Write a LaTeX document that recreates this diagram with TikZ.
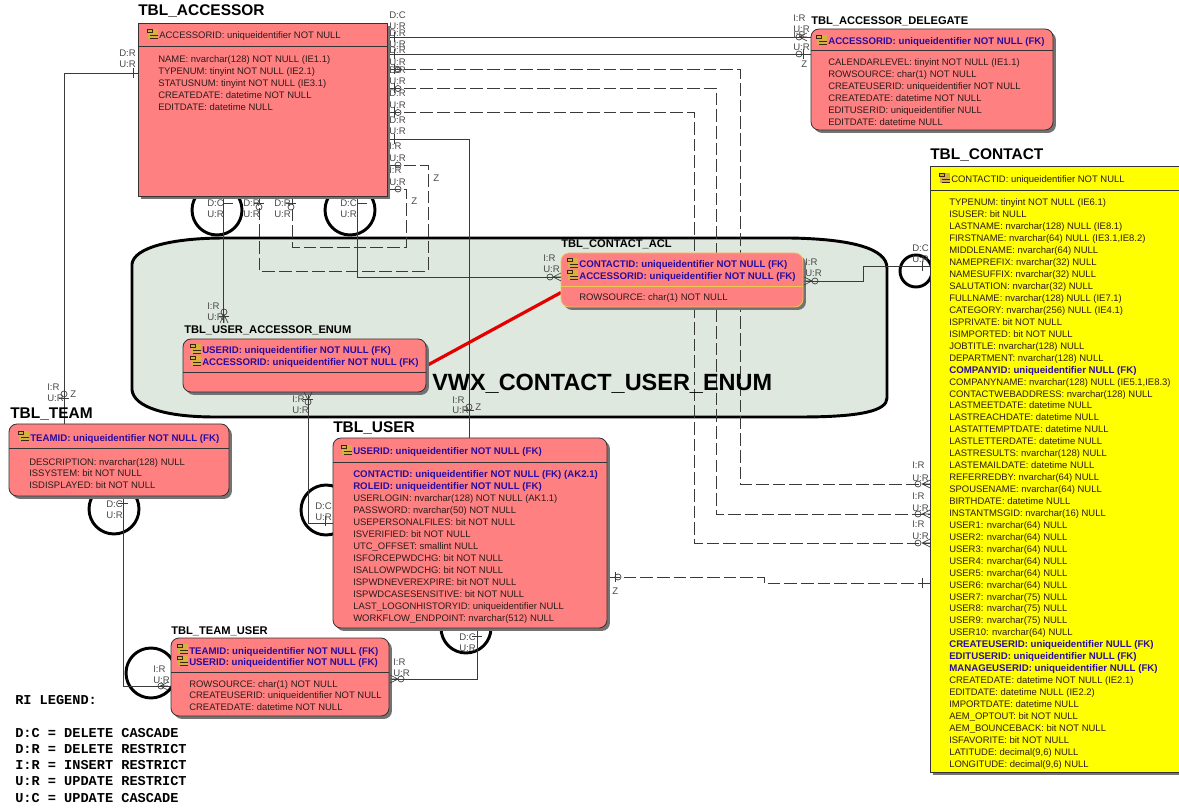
\documentclass[tikz,border=0pt]{standalone}
\usepackage{fontspec}
\setmainfont{Liberation Sans}
\newfontfamily\legendfont{Liberation Mono}
\usetikzlibrary{shadows}
\pgfdeclarelayer{backlayer}
\pgfdeclarelayer{midlayer}
\pgfsetlayers{backlayer,midlayer,main}
\definecolor{pinkbox}{HTML}{FF8080}
\definecolor{yelbox}{HTML}{FFFF00}
\definecolor{fkblue}{HTML}{2A0D9E}
\definecolor{rowcol}{HTML}{2E1C1C}
\definecolor{shadecol}{HTML}{DEE8DE}
\definecolor{labcol}{HTML}{4A4A4A}
\definecolor{linecol}{HTML}{3A3A3A}
\definecolor{edgecol}{HTML}{333333}
\definecolor{aclborder}{HTML}{E8C850}
\definecolor{keycol}{HTML}{D8B040}
\newcommand\fk{\fontsize{7.25}{9}\selectfont\bfseries\color{fkblue}}
\tikzset{
  tbl/.style={draw=edgecol,line width=0.6pt,fill=pinkbox,anchor=north west,inner sep=0,outer sep=0,
     general shadow={fill=black!55,shadow xshift=2.2pt,shadow yshift=-2.2pt}},
  rtbl/.style={tbl,rounded corners=6pt},
  rowtxt/.style={anchor=base west,inner sep=0,font=\fontsize{7.1}{9}\selectfont,text=rowcol},
  bigttl/.style={anchor=base west,inner sep=0,font=\fontsize{11.6}{13}\selectfont\bfseries,text=black},
  smallttl/.style={anchor=base west,inner sep=0,font=\fontsize{8.35}{10}\selectfont\bfseries,text=black},
  rilab/.style={anchor=base west,inner sep=0,font=\fontsize{7.2}{8}\selectfont,text=labcol},
  legendtxt/.style={anchor=base west,inner sep=0,font=\legendfont\bfseries\fontsize{10.2}{12}\selectfont,text=black},
  rel/.style={draw=linecol,line width=0.6pt},
  reld/.style={draw=linecol,line width=0.6pt,dash pattern=on 9.5pt off 3pt},
  sym/.style={draw=linecol,line width=0.5pt},
  ring/.style={draw=black,line width=2.2pt},
  divider/.style={draw=edgecol,line width=0.6pt},
}
% position helpers
\newcommand\rowlist[4]{\foreach \t [count=\i from 0] in {#4} {\node[rowtxt,name=#1\i] at (#2,{#3+1+\i*11.94}) {\t};}}
\newcommand\lab[4]{\node[rilab,name=#1] at (#2,#3) {#4};}
\newcommand\keyic[2]{%
  \fill[keycol] ({#1-5.5},{#2-5}) rectangle ({#1+5},{#2+5});
  \draw[black!70!brown,line width=0.5pt] ({#1-5.5},{#2-5}) rectangle ({#1-1},{#2-1.5}) ({#1-3},{#2+1}) -- ({#1+5},{#2+1}) ({#1-3},{#2+4}) -- ({#1+5},{#2+4});}
\newcommand\zc[2]{\draw[sym] (#1,#2) circle (3);}
\newcommand\footR[2]{\draw[sym] (#1,#2) -- ({#1+8},{#2-4}) (#1,#2) -- ({#1+8},{#2+4}) (#1,#2) -- ({#1+8},#2);}
\newcommand\footL[2]{\draw[sym] (#1,#2) -- ({#1-8},{#2-4}) (#1,#2) -- ({#1-8},{#2+4}) (#1,#2) -- ({#1-8},#2);}
\newcommand\footD[2]{\draw[sym] (#1,#2) -- ({#1-4},{#2+8}) (#1,#2) -- ({#1+4},{#2+8}) (#1,#2) -- (#1,{#2+8});}
\newcommand\footU[2]{\draw[sym] (#1,#2) -- ({#1-4},{#2-8}) (#1,#2) -- ({#1+4},{#2-8});}
\newcommand\tickV[2]{\draw[sym] (#1,{#2-5}) -- (#1,{#2+5});}
\newcommand\tickH[2]{\draw[sym] ({#1-5},#2) -- ({#1+5},#2);}
\begin{document}
\begin{tikzpicture}[x=0.75pt,y=-0.75pt]
\useasboundingbox (0,0) rectangle (1179,809);
\begin{pgfonlayer}{backlayer}
\fill[white] (0,0) rectangle (1179,809);
% view region
\filldraw[draw=black,line width=2.2pt,fill=shadecol]
 (132,264) .. controls (134,248) and (170,238) .. (225,238) -- (790,238)
 .. controls (850,239) and (887,248) .. (887,268) -- (887,398)
 .. controls (887,411) and (860,417) .. (800,417) -- (215,417)
 .. controls (165,417) and (134,407) .. (132,390) -- cycle;
% rings
\draw[ring] (217,210) circle (25);
\draw[ring] (350,210) circle (25);
\draw[ring] (114,509) circle (25);
\draw[ring] (326,510) circle (25);
\draw[ring] (151,673) circle (25);
\draw[ring] (466,628) circle (25);
\draw[ring] (916,271) circle (16);
\end{pgfonlayer}
\node[anchor=base west,inner sep=0,font=\fontsize{17.6}{20}\selectfont\bfseries,text=black] (view) at (432,391) {VWX\_CONTACT\_USER\_ENUM};
% tables
\node[tbl,minimum width=186.75pt,minimum height=129.75pt] (acc) at (138,23) {};
\node[rtbl,minimum width=181.5pt,minimum height=75.75pt] (del) at (811,29) {};
\node[tbl,fill=yelbox,minimum width=200pt,minimum height=454.5pt] (con) at (930,166) {};
\node[rtbl,draw=aclborder,minimum width=181.5pt,minimum height=40.5pt] (acl) at (561,253) {};
\node[rtbl,minimum width=182.25pt,minimum height=39.75pt] (uae) at (183,339) {};
\node[rtbl,minimum width=165pt,minimum height=54pt] (team) at (9,424) {};
\node[rtbl,minimum width=205.5pt,minimum height=142.5pt] (usr) at (333,438) {};
\node[rtbl,minimum width=163.5pt,minimum height=58.5pt] (tu) at (171,638) {};
% connector end points that stop short of a table
\coordinate (uaeTop) at (224,323);
% connectors
\begin{pgfonlayer}{midlayer}
\draw[rel] (acc.east |- 0,37) -- (del.west |- 0,37);
\draw[rel] (acc.east |- 0,54) -- (del.west |- 0,54);
\draw[reld] (acc.east |- 0,69.5) -- (740,69.5) -- (740,484) -- (con.west |- 0,484);
\draw[reld] (acc.east |- 0,88.5) -- (716,88.5) -- (716,514) -- (con.west |- 0,514);
\draw[reld] (acc.east |- 0,112.5) -- (694,112.5) -- (694,543) -- (con.west |- 0,543);
\draw[rel] (acc.east |- 0,139) -- (469,139) -- (usr.north -| 469,0);
\draw[reld] (acc.east |- 0,165) -- (428,165) -- (428,271) -- (259,271) -- (acc.south -| 259,0);
\draw[reld] (acc.east |- 0,189) -- (406,189) -- (406,247) -- (292,247) -- (acc.south -| 292,0);
\draw[rel] (acc.south -| 357,0) -- (357,277) -- (acl.west |- 0,277);
\draw[rel] (acc.south -| 223.5,0) -- (uaeTop -| 223.5,0);
\draw[rel] (uae.south -| 308,0) -- (308,523) -- (usr.west |- 0,523);
\draw[rel] (acc.west |- 0,73) -- (64,73) -- (team.north -| 64,0);
\draw[rel] (team.south -| 123,0) -- (123,686) -- (tu.west |- 0,686);
\draw[rel] (usr.south -| 477,0) -- (477,679) -- (tu.east |- 0,679);
\draw[rel] (acl.east |- 0,281) -- (863,281) -- (863,266) -- (con.west |- 0,266);
\draw[reld] (usr.east |- 0,577) -- (764,577) -- (764,583) -- (con.west |- 0,583);
\draw[draw=red!90!black,line width=2.4pt] (acl.west |- 0,292.5) -- (uae.east |- 0,366);
\end{pgfonlayer}
% relationship end marks
\tickV{394}{37}\tickV{394}{54}\tickV{394}{69}\tickV{394}{88}\tickV{394}{112}\tickV{394}{139}
\zc{398}{69.5}\footL{402}{69.5}\zc{398}{88.5}\zc{398}{112.5}\zc{398}{165}\zc{398}{189}
\tickH{228}{203}\tickH{362}{203}\zc{259}{207}\tickH{259}{203}\zc{291}{207}\tickH{291}{203}
\zc{799}{37}\footR{799}{37}\zc{799}{54}\tickV{803}{54}
\footR{922}{484}\zc{918}{484}\footR{922}{514}\zc{918}{514}\footR{922}{543}\zc{918}{543}
\tickV{922}{266}\tickV{922}{583}
\zc{550}{277}\footR{553}{277}
\footL{812}{281}\zc{815}{281}
\zc{224}{312}\footD{224}{315}\tickH{224}{316}
\zc{308}{402}\footU{308}{400}\tickH{308}{399}
\zc{469}{407}\tickH{469}{410}
\zc{64}{394}\tickH{64}{398}\tickV{133}{73}
\tickH{123}{503}\footR{160}{686}\zc{161}{686}
\tickV{325}{521}
\tickH{477}{636}\footL{398}{679}\zc{401}{679}
\tickV{615}{577}\zc{618}{577}
% dividers
\draw[divider] (acc.west |- 0,46) -- (acc.east |- 0,46);
\draw[divider] (del.west |- 0,50) -- (del.east |- 0,50);
\draw[divider] (con.west |- 0,190) -- (con.east |- 0,190);
\draw[draw=aclborder,line width=0.7pt] (acl.west |- 0,286) -- (acl.east |- 0,286);
\draw[divider] (uae.west |- 0,372) -- (uae.east |- 0,372);
\draw[divider] (team.west |- 0,448) -- (team.east |- 0,448);
\draw[divider] (usr.west |- 0,462) -- (usr.east |- 0,462);
\draw[divider] (tu.west |- 0,672) -- (tu.east |- 0,672);
% titles
\node[bigttl] (tAcc) at (138,16) {TBL\_ACCESSOR};
\node[smallttl] (tDel) at (811,25) {TBL\_ACCESSOR\_DELEGATE};
\node[bigttl] (tCon) at (930,160) {TBL\_CONTACT};
\node[smallttl] (tAcl) at (561,248) {TBL\_CONTACT\_ACL};
\node[smallttl] (tUae) at (184,334) {TBL\_USER\_ACCESSOR\_ENUM};
\node[bigttl] (tTeam) at (10,419) {TBL\_TEAM};
\node[bigttl] (tUsr) at (333,432) {TBL\_USER};
\node[smallttl] (tTu) at (171,634) {TBL\_TEAM\_USER};
% key rows
\keyic{153}{34}\rowlist{aKey}{159}{38}{ACCESSORID: uniqueidentifier NOT NULL}
\keyic{822}{40}\rowlist{dKey}{828}{44}{{\fk ACCESSORID: uniqueidentifier NOT NULL (FK)}}
\keyic{945}{178}\rowlist{cKey}{951}{182}{CONTACTID: uniqueidentifier NOT NULL}
\keyic{573}{263}\keyic{573}{275}\rowlist{lKey}{579}{267}{{\fk CONTACTID: uniqueidentifier NOT NULL (FK)},{\fk ACCESSORID: uniqueidentifier NOT NULL (FK)}}
\keyic{196}{349}\keyic{196}{361}\rowlist{uKey}{202}{353}{{\fk USERID: uniqueidentifier NOT NULL (FK)},{\fk ACCESSORID: uniqueidentifier NOT NULL (FK)}}
\keyic{24}{436}\rowlist{tKey}{30}{440}{{\fk TEAMID: uniqueidentifier NOT NULL (FK)}}
\keyic{347}{450}\rowlist{sKey}{353}{454}{{\fk USERID: uniqueidentifier NOT NULL (FK)}}
\keyic{183}{649}\keyic{183}{661}\rowlist{mKey}{189}{653}{{\fk TEAMID: uniqueidentifier NOT NULL (FK)},{\fk USERID: uniqueidentifier NOT NULL (FK)}}
% attribute rows
\rowlist{aRow}{158}{62}{NAME: nvarchar(128) NOT NULL (IE1.1),TYPENUM: tinyint NOT NULL (IE2.1),STATUSNUM: tinyint NOT NULL (IE3.1),CREATEDATE: datetime NOT NULL,EDITDATE: datetime NULL}
\rowlist{dRow}{828}{65}{CALENDARLEVEL: tinyint NOT NULL (IE1.1),ROWSOURCE: char(1) NOT NULL,CREATEUSERID: uniqueidentifier NOT NULL,CREATEDATE: datetime NOT NULL,EDITUSERID: uniqueidentifier NULL,EDITDATE: datetime NULL}
\rowlist{lRow}{579}{300}{ROWSOURCE: char(1) NOT NULL}
\rowlist{tRow}{29}{464}{DESCRIPTION: nvarchar(128) NULL,ISSYSTEM: bit NOT NULL,ISDISPLAYED: bit NOT NULL}
\rowlist{sRow}{353}{477}{{\fk CONTACTID: uniqueidentifier NOT NULL (FK) (AK2.1)},{\fk ROLEID: uniqueidentifier NOT NULL (FK)},USERLOGIN: nvarchar(128) NOT NULL (AK1.1),PASSWORD: nvarchar(50) NOT NULL,USEPERSONALFILES: bit NOT NULL,ISVERIFIED: bit NOT NULL,UTC\_OFFSET: smallint NULL,ISFORCEPWDCHG: bit NOT NULL,ISALLOWPWDCHG: bit NOT NULL,ISPWDNEVEREXPIRE: bit NOT NULL,ISPWDCASESENSITIVE: bit NOT NULL,LAST\_LOGONHISTORYID: uniqueidentifier NULL,WORKFLOW\_ENDPOINT: nvarchar(512) NULL}
\rowlist{mRow}{189}{686}{ROWSOURCE: char(1) NOT NULL,CREATEUSERID: uniqueidentifier NOT NULL,CREATEDATE: datetime NOT NULL}
\rowlist{cRow}{949}{205}{TYPENUM: tinyint NOT NULL (IE6.1),ISUSER: bit NULL,LASTNAME: nvarchar(128) NULL (IE8.1),{FIRSTNAME: nvarchar(64) NULL (IE3.1,IE8.2)},MIDDLENAME: nvarchar(64) NULL,NAMEPREFIX: nvarchar(32) NULL,NAMESUFFIX: nvarchar(32) NULL,SALUTATION: nvarchar(32) NULL,FULLNAME: nvarchar(128) NULL (IE7.1),CATEGORY: nvarchar(256) NULL (IE4.1),ISPRIVATE: bit NOT NULL,ISIMPORTED: bit NOT NULL,JOBTITLE: nvarchar(128) NULL,DEPARTMENT: nvarchar(128) NULL,{\fk COMPANYID: uniqueidentifier NULL (FK)},{COMPANYNAME: nvarchar(128) NULL (IE5.1,IE8.3)},CONTACTWEBADDRESS: nvarchar(128) NULL,LASTMEETDATE: datetime NULL,LASTREACHDATE: datetime NULL,LASTATTEMPTDATE: datetime NULL,LASTLETTERDATE: datetime NULL,LASTRESULTS: nvarchar(128) NULL,LASTEMAILDATE: datetime NULL,REFERREDBY: nvarchar(64) NULL,SPOUSENAME: nvarchar(64) NULL,BIRTHDATE: datetime NULL,INSTANTMSGID: nvarchar(16) NULL,USER1: nvarchar(64) NULL,USER2: nvarchar(64) NULL,USER3: nvarchar(64) NULL,USER4: nvarchar(64) NULL,USER5: nvarchar(64) NULL,USER6: nvarchar(64) NULL,USER7: nvarchar(75) NULL,USER8: nvarchar(75) NULL,USER9: nvarchar(75) NULL,USER10: nvarchar(64) NULL,{\fk CREATEUSERID: uniqueidentifier NULL (FK)},{\fk EDITUSERID: uniqueidentifier NULL (FK)},{\fk MANAGEUSERID: uniqueidentifier NULL (FK)},CREATEDATE: datetime NOT NULL (IE2.1),EDITDATE: datetime NULL (IE2.2),IMPORTDATE: datetime NULL,AEM\_OPTOUT: bit NOT NULL,AEM\_BOUNCEBACK: bit NOT NULL,ISFAVORITE: bit NOT NULL,{LATITUDE: decimal(9,6) NULL},{LONGITUDE: decimal(9,6) NULL}}
% RI labels
\lab{l1}{389}{19}{D:C}\lab{l2}{389}{30}{U:R}\lab{l3}{389}{37}{D:R}\lab{l4}{389}{48}{U:R}
\lab{l5}{389}{54}{D:R}\lab{l6}{389}{66}{U:R}\lab{l7}{389}{74}{D:R}\lab{l8}{389}{85}{U:R}
\lab{l9}{389}{97}{D:R}\lab{l10}{389}{109}{U:R}\lab{l11}{389}{124}{D:R}\lab{l12}{389}{135}{U:R}
\lab{l13}{389}{150}{I:R}\lab{l14}{389}{162}{U:R}\lab{l15}{389}{174}{I:R}\lab{l16}{389}{186}{U:R}
\lab{z1}{433}{182}{Z}\lab{z2}{411}{205}{Z}
\lab{b1}{207}{207}{D:C}\lab{b2}{207}{218}{U:R}\lab{b3}{243}{207}{D:R}\lab{b4}{243}{218}{U:R}
\lab{b5}{274}{207}{D:R}\lab{b6}{274}{218}{U:R}\lab{b7}{340}{207}{D:C}\lab{b8}{340}{218}{U:R}
\lab{a1}{119}{57}{D:R}\lab{a2}{119}{68}{U:R}
\lab{d1}{793}{22}{I:R}\lab{d2}{793}{33}{U:R}\lab{d3}{793}{39}{I:R}\lab{d4}{793}{51}{U:R}\lab{d5}{801}{68}{Z}
\lab{c1}{912}{469}{I:R}\lab{c2}{912}{481}{U:R}\lab{c3}{912}{499}{I:R}\lab{c4}{912}{511}{U:R}\lab{c5}{912}{527}{I:R}\lab{c6}{912}{539}{U:R}
\lab{k1}{543}{262}{I:R}\lab{k2}{543}{273}{U:R}\lab{k3}{805}{266}{I:R}\lab{k4}{805}{277}{U:R}\lab{k5}{912}{252}{D:C}\lab{k6}{912}{263}{U:R}
\lab{e1}{207}{310}{I:R}\lab{e2}{207}{321}{U:R}\lab{e3}{292}{403}{I:R}\lab{e4}{292}{414}{U:R}
\lab{f1}{452}{404}{I:R}\lab{f2}{452}{414}{U:R}\lab{f3}{475}{411}{Z}
\lab{g1}{47}{391}{I:R}\lab{g2}{47}{402}{U:R}\lab{g3}{70}{398}{Z}
\lab{h1}{106}{507}{D:C}\lab{h2}{106}{518}{U:R}\lab{h3}{315}{509}{D:C}\lab{h4}{315}{520}{U:R}
\lab{i1}{153}{672}{I:R}\lab{i2}{153}{683}{U:R}\lab{i3}{459}{640}{D:C}\lab{i4}{459}{651}{U:R}
\lab{j1}{393}{665}{I:R}\lab{j2}{393}{676}{U:R}\lab{j3}{612}{594}{Z}
% legend
\node[legendtxt] (lg0) at (15,704) {RI LEGEND:};
\node[legendtxt] (lg1) at (15,737) {D:C = DELETE CASCADE};
\node[legendtxt] (lg2) at (15,753) {D:R = DELETE RESTRICT};
\node[legendtxt] (lg3) at (15,769) {I:R = INSERT RESTRICT};
\node[legendtxt] (lg4) at (15,785) {U:R = UPDATE RESTRICT};
\node[legendtxt] (lg5) at (15,802) {U:C = UPDATE CASCADE};
\end{tikzpicture}
\end{document}
